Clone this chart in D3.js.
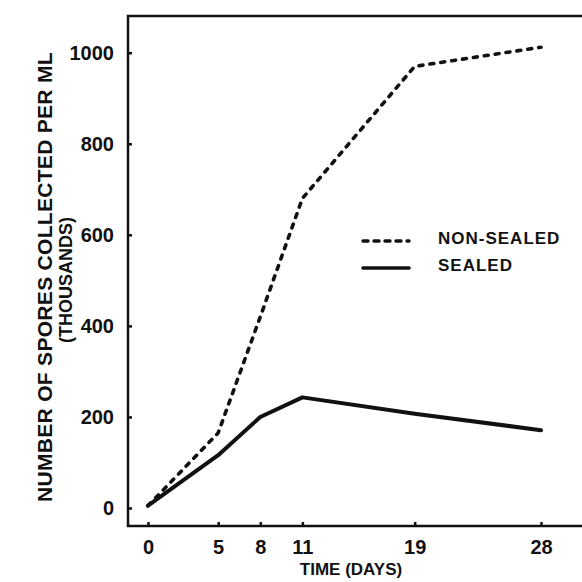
<!DOCTYPE html>
<html>
<head>
<meta charset="utf-8">
<script src="https://cdn.jsdelivr.net/npm/d3@7"></script>
<style>
  body { margin: 0; background: #fff; }
  svg { display: block; }
  .axis text { font-family: "Liberation Sans", Arial, sans-serif; font-weight: bold; font-size: 20px; fill: #111; }
  .axis line { stroke: #111; stroke-width: 2.5; }
</style>
</head>
<body>
<div id="chart"></div>
<script>
// values
const days = [0, 5, 8, 11, 19, 28];
const nonSealed = [5, 165, 420, 680, 970, 1012];
const sealed = [5, 116, 200, 243, 207, 171];
const yTicks = [0, 200, 400, 600, 800, 1000];
const seriesNames = ["NON-SEALED", "SEALED"];

const W = 582, H = 582;
const frame = { left: 128, top: 16, bottom: 526, right: 582 };

const svg = d3.select("#chart").append("svg")
  .attr("width", W)
  .attr("height", H);

const x = d3.scaleLinear().domain([0, 28]).range([148, 541]);
const y = d3.scaleLinear().domain([0, 1000]).range([508, 52.7]);

// frame: left axis, top border and bottom axis
svg.append("path")
  .attr("d", `M${frame.right},${frame.top}H${frame.left}V${frame.bottom}H${frame.right}`)
  .attr("fill", "none")
  .attr("stroke", "#111")
  .attr("stroke-width", 2.5);

// y axis ticks (pointing inward)
const yAxis = svg.append("g")
  .attr("class", "axis")
  .attr("transform", `translate(${frame.left},0)`)
  .call(d3.axisLeft(y).tickValues(yTicks).tickFormat(d3.format("d"))
    .tickSizeInner(-4).tickSizeOuter(0).tickPadding(14));
yAxis.select(".domain").remove();

// x axis ticks
const xAxis = svg.append("g")
  .attr("class", "axis")
  .attr("transform", `translate(0,${frame.bottom})`)
  .call(d3.axisBottom(x).tickValues(days).tickFormat(d3.format("d"))
    .tickSizeInner(-4).tickSizeOuter(0).tickPadding(14));
xAxis.select(".domain").remove();

// axis titles
svg.append("text")
  .attr("x", 351).attr("y", 575)
  .attr("text-anchor", "middle")
  .attr("font-family", "Liberation Sans, Arial, sans-serif")
  .attr("font-weight", "bold")
  .attr("font-size", 17)
  .attr("fill", "#111")
  .text("TIME (DAYS)");

svg.append("text")
  .attr("transform", "translate(52,277) rotate(-90)")
  .attr("text-anchor", "middle")
  .attr("font-family", "Liberation Sans, Arial, sans-serif")
  .attr("font-weight", "bold")
  .attr("font-size", 21)
  .attr("letter-spacing", 0.3)
  .attr("fill", "#111")
  .text("NUMBER OF SPORES COLLECTED PER ML");

svg.append("text")
  .attr("transform", "translate(72,280) rotate(-90)")
  .attr("text-anchor", "middle")
  .attr("font-family", "Liberation Sans, Arial, sans-serif")
  .attr("font-weight", "bold")
  .attr("font-size", 18)
  .attr("fill", "#111")
  .text("(THOUSANDS)");

// lines
const line = d3.line()
  .x(d => x(d[0]))
  .y(d => y(d[1]));

svg.append("path")
  .datum(d3.zip(days, nonSealed))
  .attr("d", line)
  .attr("fill", "none")
  .attr("stroke", "#111")
  .attr("stroke-width", 3.6)
  .attr("stroke-linecap", "round")
  .attr("stroke-dasharray", "4,7");

svg.append("path")
  .datum(d3.zip(days, sealed))
  .attr("d", line)
  .attr("fill", "none")
  .attr("stroke", "#111")
  .attr("stroke-width", 4)
  .attr("stroke-linejoin", "round")
  .attr("stroke-linecap", "round");

// legend
const legend = svg.append("g")
  .selectAll("g")
  .data(seriesNames)
  .enter().append("g")
  .attr("transform", (d, i) => `translate(0,${i * 27})`);

legend.append("line")
  .attr("x1", 363).attr("x2", 409)
  .attr("y1", 241).attr("y2", 241)
  .attr("stroke", "#111")
  .attr("stroke-width", (d, i) => i === 0 ? 3.4 : 3.6)
  .attr("stroke-linecap", "round")
  .attr("stroke-dasharray", (d, i) => i === 0 ? "5,6" : null);

legend.append("text")
  .attr("x", 438).attr("y", 244)
  .attr("font-family", "Liberation Sans, Arial, sans-serif")
  .attr("font-weight", "bold")
  .attr("font-size", 17)
  .attr("letter-spacing", 1)
  .attr("fill", "#111")
  .text(d => d);
</script>
</body>
</html>
